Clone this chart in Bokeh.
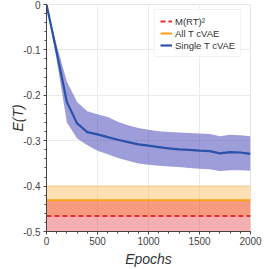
from bokeh.plotting import figure
from bokeh.models import Legend, LegendItem, CustomJSTickFormatter, FixedTicker
from bokeh.embed import file_html
from bokeh.resources import INLINE

# ---- data ----
epochs = [0, 100, 200, 300, 400, 500, 600, 700, 800, 900, 1000,
          1100, 1200, 1300, 1400, 1500, 1600, 1700, 1800, 1900, 2000]
single_mean = [0.0, -0.105, -0.215, -0.262, -0.281, -0.286, -0.292, -0.298, -0.303, -0.308, -0.311,
               -0.314, -0.317, -0.319, -0.320, -0.322, -0.323, -0.328, -0.325, -0.326, -0.329]
single_upper = [0.0, -0.090, -0.170, -0.215, -0.235, -0.242, -0.248, -0.258, -0.266, -0.272, -0.276,
                -0.279, -0.281, -0.282, -0.283, -0.284, -0.285, -0.290, -0.287, -0.288, -0.290]
single_lower = [0.0, -0.122, -0.260, -0.295, -0.310, -0.322, -0.330, -0.338, -0.344, -0.350, -0.353,
                -0.355, -0.357, -0.358, -0.360, -0.362, -0.363, -0.367, -0.365, -0.365, -0.366]

all_t_mean = -0.431
all_t_std = 0.033
rt_mean = -0.466
rt_std = 0.035

span_x = [0, 2000]
x_ticks = [0, 500, 1000, 1500, 2000]
y_ticks = [-0.5, -0.4, -0.3, -0.2, -0.1, 0.0]

FONT = "Liberation Sans"

p = figure(frame_width=204, frame_height=227, x_range=(0, 2000), y_range=(-0.5, 0),
           output_backend="svg", toolbar_location=None,
           min_border_left=46, min_border_right=14, min_border_top=4, min_border_bottom=36)

p.background_fill_color = "white"
p.outline_line_color = "#e6e6e6"
p.grid.grid_line_color = "#ebebeb"
p.grid.grid_line_width = 1

# bands
p.varea(x=span_x, y1=[all_t_mean - all_t_std] * 2, y2=[all_t_mean + all_t_std] * 2,
        fill_color="#ff9900", fill_alpha=0.3)
p.varea(x=span_x, y1=[rt_mean - rt_std] * 2, y2=[rt_mean + rt_std] * 2,
        fill_color="#e41a1c", fill_alpha=0.35)
p.varea(x=epochs, y1=single_lower, y2=single_upper, fill_color="#3c3cb4", fill_alpha=0.5)

r_all = p.line(span_x, [all_t_mean] * 2, line_color="#ff9f1c", line_width=2)
r_rt = p.line(span_x, [rt_mean] * 2, line_color="#ee2a2a", line_width=2, line_dash="5 3")
r_single = p.line(epochs, single_mean, line_color="#2a52a8", line_width=2.2)

legend = Legend(items=[LegendItem(label="M(RT)\u00b2", renderers=[r_rt]),
                       LegendItem(label="All T cVAE", renderers=[r_all]),
                       LegendItem(label="Single T cVAE", renderers=[r_single])],
                location=(108, 174))
legend.label_text_font = FONT
legend.label_text_font_size = "9.5px"
legend.label_text_color = "#333333"
legend.glyph_width = 12
legend.glyph_height = 12
legend.label_height = 12
legend.label_standoff = 3
legend.spacing = 0
legend.padding = 5
legend.margin = 0
legend.border_line_color = "#e6e6e6"
legend.background_fill_alpha = 0.9
p.add_layout(legend, "center")

# axes
p.xaxis.ticker = FixedTicker(ticks=x_ticks, minor_ticks=list(range(0, 2001, 100)))
p.yaxis.ticker = FixedTicker(ticks=y_ticks, minor_ticks=[i * -0.02 for i in range(26)])
p.yaxis.formatter = CustomJSTickFormatter(
    code="return Math.abs(tick) < 1e-9 ? '0' : tick.toFixed(1);")

for ax in (p.xaxis[0], p.yaxis[0]):
    ax.axis_line_color = "#444444"
    ax.major_tick_line_color = "#444444"
    ax.minor_tick_line_color = "#444444"
    ax.major_tick_out = 3
    ax.major_tick_in = 0
    ax.minor_tick_out = 2
    ax.minor_tick_in = 0
    ax.major_label_text_font = FONT
    ax.major_label_text_font_size = "10px"
    ax.major_label_text_color = "#444444"
    ax.axis_label_text_font = FONT
    ax.axis_label_text_font_size = "14px"
    ax.axis_label_text_font_style = "italic"
    ax.axis_label_text_color = "#333333"

p.xaxis.axis_label = "Epochs"
p.yaxis.axis_label = "E(T)"
p.xaxis.major_label_standoff = 2
p.yaxis.major_label_standoff = 3
p.xaxis.axis_label_standoff = 3
p.yaxis.axis_label_standoff = -6

open("out.html", "w").write(file_html(p, INLINE))
